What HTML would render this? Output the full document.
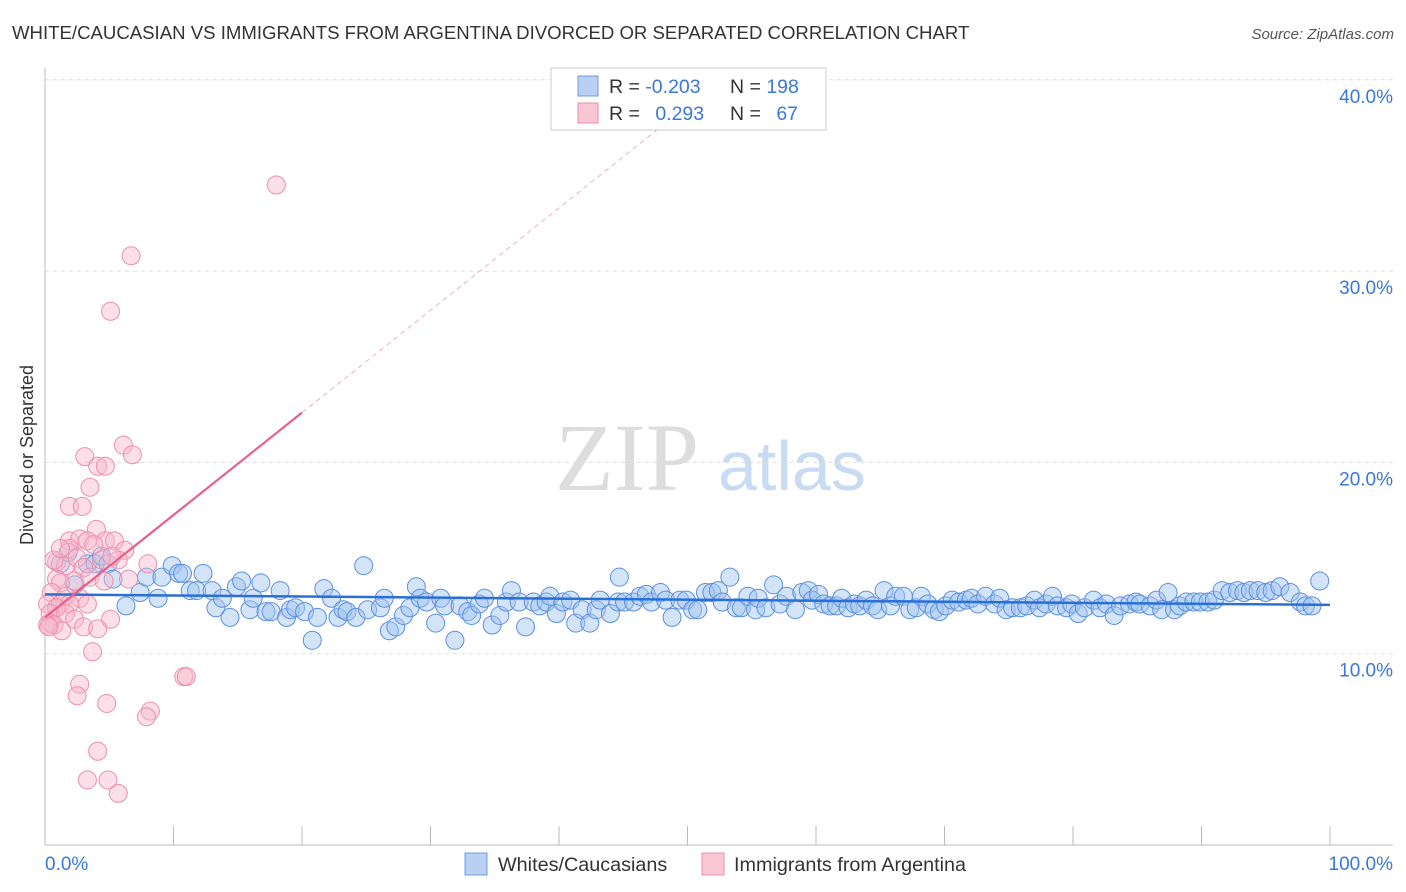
<!DOCTYPE html>
<html><head><meta charset="utf-8"><style>
body{margin:0;background:#fff;font-family:"Liberation Sans",sans-serif}
svg{display:block}
</style></head><body>
<svg id="c" width="1406" height="892" xmlns="http://www.w3.org/2000/svg">
<text x="12" y="39" font-size="18.6" fill="#333">WHITE/CAUCASIAN VS IMMIGRANTS FROM ARGENTINA DIVORCED OR SEPARATED CORRELATION CHART</text>
<text x="1394" y="39" font-size="15" fill="#555" font-style="italic" text-anchor="end">Source: ZipAtlas.com</text>
<text x="555" y="490" font-size="96" fill="#ddd" font-family="Liberation Serif,serif">ZIP</text>
<text x="718" y="490" font-size="70" fill="#c9dbf3">atlas</text>
<text transform="translate(33,455) rotate(-90)" font-size="18" fill="#333" text-anchor="middle">Divorced or Separated</text>
<g id="grid"></g><g id="pts"></g><g id="trend"></g>
<g>
<rect x="551" y="68" width="275" height="62" fill="#fff" stroke="#ccc"/>
<rect x="578" y="76" width="20" height="20" fill="#b9d0f3" stroke="#6a9be0"/>
<rect x="578" y="103" width="20" height="20" fill="#f9c6d3" stroke="#ee8fa8"/>
<text x="609" y="93" font-size="19.5" fill="#333">R = <tspan fill="#3a78d8">-0.203</tspan></text>
<text x="730" y="93" font-size="19.5" fill="#333">N = <tspan fill="#3a78d8">198</tspan></text>
<text x="609" y="120" font-size="19.5" fill="#333">R = <tspan fill="#3a78d8" dx="10">0.293</tspan></text>
<text x="730" y="120" font-size="19.5" fill="#333">N = <tspan fill="#3a78d8" dx="10">67</tspan></text>
</g>
<g>
<rect x="465" y="853" width="22" height="22" fill="#b9d0f3" stroke="#6a9be0"/>
<text x="498" y="871" font-size="19.8" fill="#333">Whites/Caucasians</text>
<rect x="702" y="853" width="22" height="22" fill="#f9c6d3" stroke="#ee8fa8"/>
<text x="734" y="871" font-size="19.8" fill="#333">Immigrants from Argentina</text>
</g>
</svg>
<script>
const yTicks=[10,20,30,40];
const yTickLabels=["10.0%","20.0%","30.0%","40.0%"];
const xTickLabels=["0.0%","100.0%"];
const blueX=[0.9,1.2,1.8,2.3,3.3,3.9,4.4,4.9,5.3,6.3,7.4,7.9,8.8,9.1,9.9,10.4,10.7,11.3,11.8,12.3,13.0,13.3,13.8,14.4,14.9,15.3,15.95,16.2,16.8,17.2,17.6,18.3,18.8,19.1,19.5,20.2,20.8,21.2,21.7,22.3,22.8,23.2,23.5,24.2,24.8,25.1,26.1,26.4,26.8,27.3,27.9,28.4,28.9,29.2,29.7,30.4,30.8,31.1,31.9,32.3,32.9,33.2,33.8,34.2,34.8,35.4,35.9,36.3,36.9,37.4,38.0,38.5,39.0,39.3,39.8,40.3,40.9,41.3,41.8,42.4,42.9,43.2,44.0,44.6,44.7,45.1,45.8,46.3,46.8,47.2,47.9,48.3,48.8,49.4,49.9,50.4,50.8,51.4,51.9,52.4,52.7,53.3,53.8,54.2,54.7,55.3,55.5,56.1,56.7,57.2,57.7,58.4,58.9,59.4,59.7,60.2,60.6,61.1,61.6,62.0,62.5,63.0,63.4,63.9,64.4,64.8,65.3,65.8,66.2,66.8,67.3,67.8,68.2,68.7,69.2,69.6,70.1,70.6,71.1,71.7,72.1,72.6,73.2,73.9,74.3,74.8,75.3,75.9,76.4,77.0,77.4,77.9,78.4,78.8,79.5,79.9,80.4,80.9,81.6,82.1,82.6,83.2,83.7,84.4,84.9,85.2,86.0,86.5,86.9,87.4,87.9,88.3,88.8,89.4,89.9,90.5,91.0,91.6,92.2,92.8,93.3,93.8,94.4,95.0,95.5,96.1,96.9,97.7,98.1,98.6,99.2];
const blueY=[12.4,14.7,15.3,13.6,14.7,14.7,15.1,14.7,13.9,12.5,13.2,14.0,12.9,14.0,14.6,14.2,14.2,13.3,13.3,14.2,13.3,12.4,12.9,11.9,13.5,13.8,12.3,12.9,13.7,12.2,12.2,13.3,11.9,12.3,12.4,12.2,10.7,11.9,13.4,12.9,11.9,12.3,12.2,11.9,14.6,12.3,12.4,12.9,11.2,11.4,12.0,12.4,13.5,12.9,12.7,11.6,12.9,12.5,10.7,12.5,12.2,12.0,12.6,12.9,11.5,12.0,12.7,13.3,12.7,11.4,12.7,12.5,12.7,13.0,12.1,12.7,12.8,11.6,12.3,11.6,12.3,12.8,12.1,12.7,14.0,12.7,12.7,13.0,13.1,12.7,13.2,12.8,11.9,12.8,12.8,12.3,12.3,13.2,13.2,13.3,12.7,14.0,12.4,12.4,13.0,12.3,12.9,12.4,13.6,12.6,13.0,12.3,13.2,13.3,12.8,13.1,12.6,12.5,12.5,12.9,12.4,12.6,12.5,12.8,12.5,12.3,13.3,12.5,13.0,13.0,12.3,12.4,13.0,12.6,12.3,12.2,12.5,12.8,12.7,12.8,12.9,12.6,13.0,12.6,12.9,12.3,12.4,12.4,12.5,12.8,12.4,12.6,13.0,12.5,12.4,12.6,12.1,12.4,12.8,12.4,12.6,12.0,12.5,12.6,12.7,12.6,12.5,12.8,12.3,13.2,12.3,12.5,12.7,12.7,12.7,12.7,12.8,13.3,13.2,13.3,13.2,13.3,13.3,13.2,13.3,13.5,13.2,12.7,12.5,12.5,13.8];
const pinkX=[18.0,6.7,5.1,6.1,6.8,3.1,4.1,4.7,3.5,1.9,2.9,4.0,1.9,2.7,3.3,4.7,5.4,6.2,3.8,1.9,0.9,1.6,2.5,4.4,5.7,8.0,3.0,2.3,3.5,0.9,1.2,4.6,6.5,0.5,1.6,2.7,0.2,1.2,1.9,3.3,0.9,0.4,1.6,0.4,0.7,2.3,3.0,5.1,4.1,1.3,0.2,3.7,10.8,11.0,2.7,2.5,4.8,8.2,7.9,4.1,3.3,4.9,5.7,0.3,0.7,1.2,5.2];
const pinkY=[34.5,30.8,27.9,20.9,20.4,20.3,19.8,19.8,18.7,17.7,17.7,16.5,15.9,16.0,15.9,15.9,15.9,15.4,15.7,15.5,14.8,14.6,15.0,14.9,14.9,14.7,14.5,13.8,14.0,13.9,13.7,13.8,13.9,13.2,13.0,12.9,12.6,12.6,12.6,12.6,12.4,12.1,12.1,11.6,11.5,11.8,11.4,11.8,11.3,11.2,11.5,10.1,8.8,8.8,8.4,7.8,7.4,7.0,6.7,4.9,3.4,3.4,2.7,11.4,14.9,15.5,15.1];
const blueTrend=[13.1,12.55];
const pinkTrend=[11.9,0.535];
const NS="http://www.w3.org/2000/svg";
const X0=45,X1=1330,Y0=845,YPX=19.13;
function sx(v){return X0+(X1-X0)*v/100}
function sy(v){return Y0-v*YPX}
function mk(tag,attrs,parent){const e=document.createElementNS(NS,tag);for(const k in attrs)e.setAttribute(k,attrs[k]);parent.appendChild(e);return e}
const grid=document.getElementById('grid');
yTicks.forEach((t,i)=>{
 const l=mk('line',{x1:45,x2:1393,y1:sy(t),y2:sy(t),stroke:'#ddd','stroke-dasharray':'4,4'},grid);
 
 
 const tx=mk('text',{x:1393,y:sy(t)+23,'font-size':19,fill:'#3a78d8','text-anchor':'end'},grid);
 tx.textContent=yTickLabels[i];
 
 
});
const ax=mk('line',{x1:45,x2:45,y1:68,y2:845,stroke:'#bbb'},grid);


const bx=mk('line',{x1:45,x2:1393,y1:845,y2:845,stroke:'#bbb'},grid);


for(let i=0;i<=10;i++){
 const t=mk('line',{x1:sx(i*10),x2:sx(i*10),y1:826,y2:845,stroke:'#bbb'},grid);
 
 
}
[[0,'start',45],[1,'end',1393]].forEach(([i,a,x])=>{
 const t=mk('text',{x:x,y:870,'font-size':19,fill:'#3a78d8','text-anchor':a},grid);
 t.textContent=xTickLabels[i];
 
 
});
const pts=document.getElementById('pts');
blueX.forEach((x,i)=>{
 if(blueY[i]===undefined)return;
 const c=mk('circle',{cx:sx(x),cy:sy(blueY[i]),r:9,fill:'rgba(160,195,240,0.45)',stroke:'#5b8fdf','stroke-width':1},pts);
 
 
});
pinkX.forEach((x,i)=>{
 const c=mk('circle',{cx:sx(x),cy:sy(pinkY[i]),r:9,fill:'rgba(248,185,205,0.45)',stroke:'#ec8fab','stroke-width':1},pts);
 
 
});
const tr=document.getElementById('trend');
const bl=mk('line',{x1:sx(0),y1:sy(blueTrend[0]),x2:sx(100),y2:sy(blueTrend[1]),stroke:'#2a6fd6','stroke-width':2.5},tr);


const pl=mk('line',{x1:sx(0),y1:sy(pinkTrend[0]),x2:sx(20),y2:sy(pinkTrend[0]+pinkTrend[1]*20),stroke:'#e8608a','stroke-width':2.2},tr);


const pd=mk('line',{x1:sx(20),y1:sy(pinkTrend[0]+pinkTrend[1]*20),x2:sx(50),y2:sy(pinkTrend[0]+pinkTrend[1]*50),stroke:'#eeb0c3','stroke-width':1,'stroke-dasharray':'5,4'},tr);


</script>
</body></html>
